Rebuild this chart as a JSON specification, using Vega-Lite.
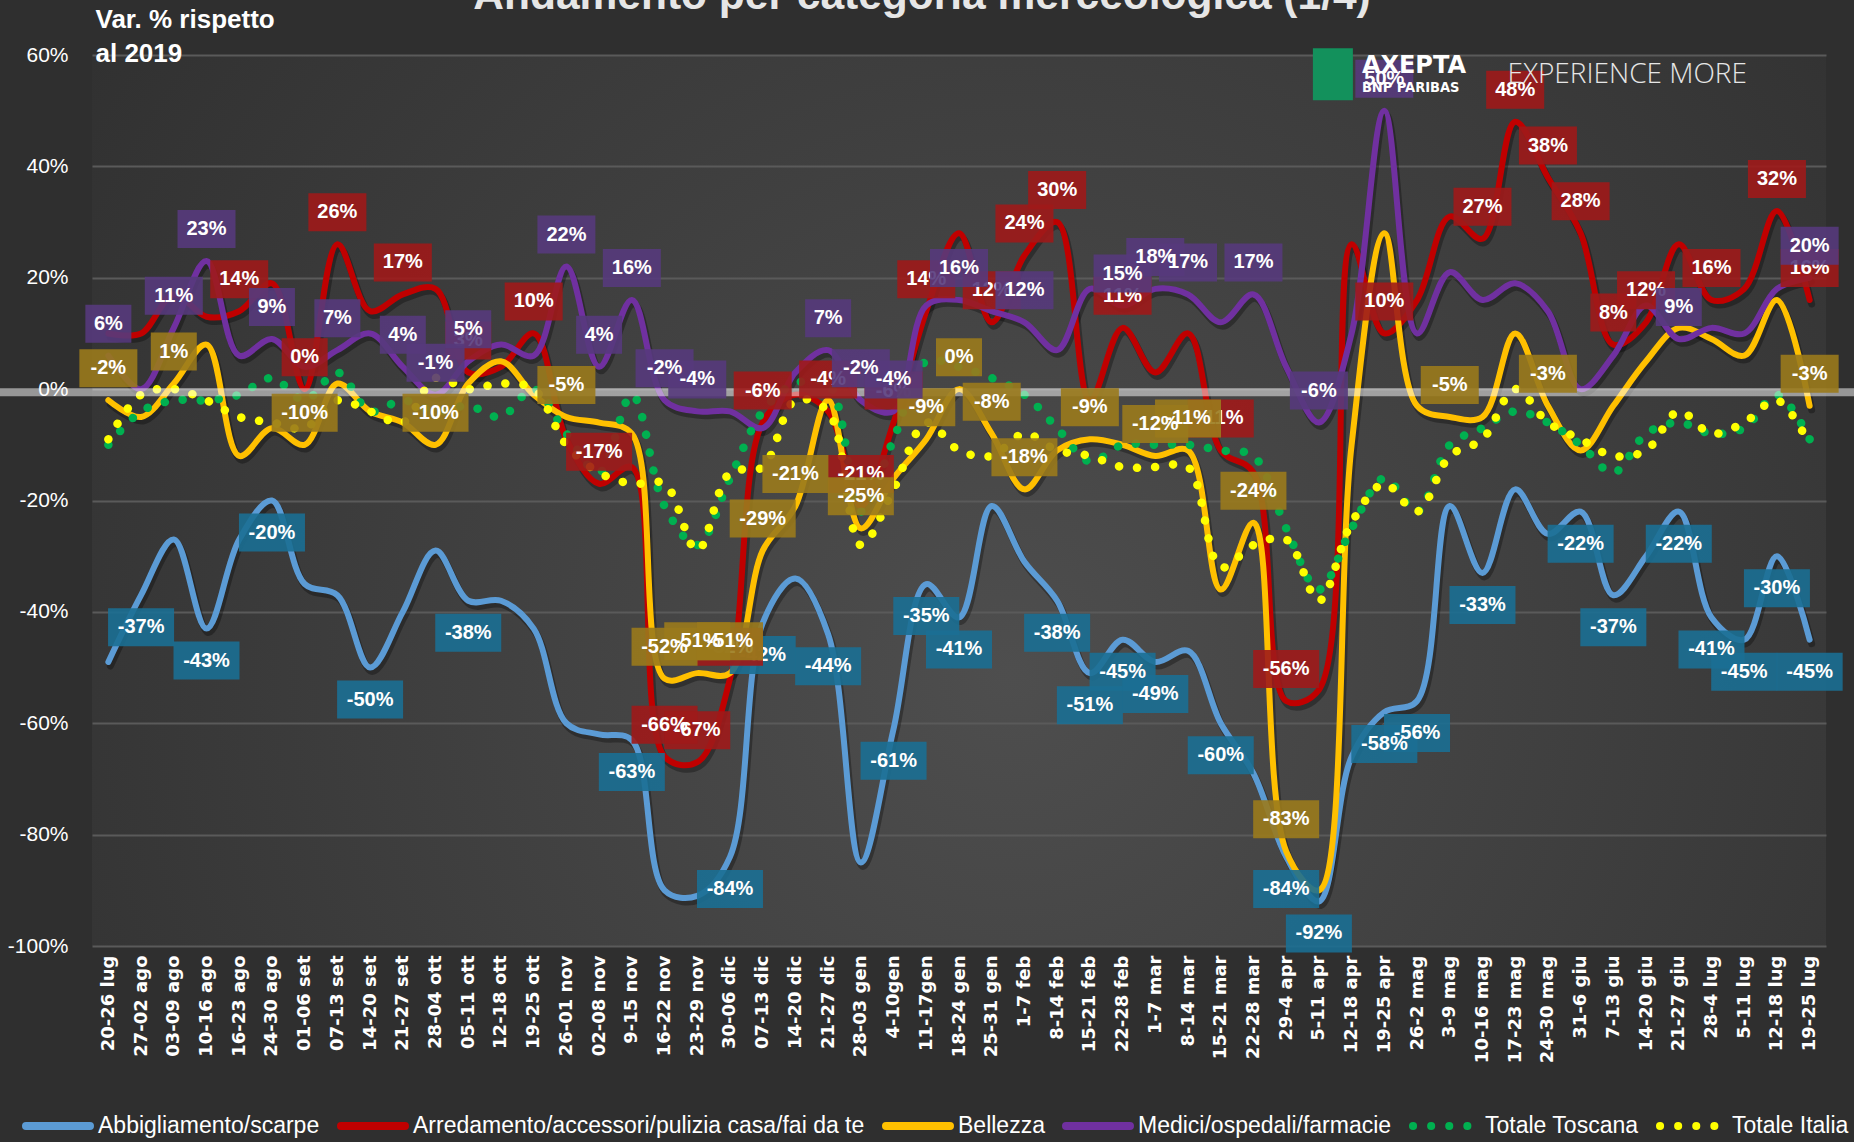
{
  "$schema": "https://vega.github.io/schema/vega-lite/v6.json",
  "width": 1734,
  "height": 891,
  "autosize": {"type": "none"},
  "padding": {"left": 92, "top": 55, "right": 28, "bottom": 196},
  "background": "#2f2f2f",
  "title": {
    "text": "Andamento per categoria merceologica (1/4)",
    "font": "Liberation Sans",
    "fontSize": 42.5,
    "fontWeight": "bold",
    "color": "#e6e6e6",
    "anchor": "middle",
    "frame": "group",
    "baseline": "alphabetic",
    "offset": -45,
    "dx": -37
  },
  "config": {
    "view": {"stroke": null, "fill": {"gradient": "radial", "x1": 0.53, "y1": 0.6, "x2": 0.53, "y2": 0.6, "r1": 0, "r2": 0.75, "stops": [{"offset": 0, "color": "#4e4e4e"}, {"offset": 1, "color": "#2c2c2c"}]}},
    "locale": {"number": {"decimal": ".", "thousands": ",", "grouping": [3], "currency": ["", ""], "minus": "-"}},
    "axis": {"domain": false, "ticks": false}
  },
  "datasets": {
    "lines": [
      {"w":"20-26 lug","Abbigliamento/scarpe":-0.49,"Arredamento/accessori/pulizia casa/fai da te":0.10,"Bellezza":-0.02,"Medici/ospedali/farmacie":0.06,"Totale Toscana":-0.10,"Totale Italia":-0.09},
      {"w":"27-02 ago","Abbigliamento/scarpe":-0.37,"Arredamento/accessori/pulizia casa/fai da te":0.10,"Bellezza":-0.05,"Medici/ospedali/farmacie":0.00,"Totale Toscana":-0.04,"Totale Italia":-0.01},
      {"w":"03-09 ago","Abbigliamento/scarpe":-0.27,"Arredamento/accessori/pulizia casa/fai da te":0.17,"Bellezza":0.01,"Medici/ospedali/farmacie":0.11,"Totale Toscana":-0.02,"Totale Italia":0.00},
      {"w":"10-16 ago","Abbigliamento/scarpe":-0.43,"Arredamento/accessori/pulizia casa/fai da te":0.13,"Bellezza":0.08,"Medici/ospedali/farmacie":0.23,"Totale Toscana":-0.02,"Totale Italia":-0.02},
      {"w":"16-23 ago","Abbigliamento/scarpe":-0.27,"Arredamento/accessori/pulizia casa/fai da te":0.14,"Bellezza":-0.12,"Medici/ospedali/farmacie":0.06,"Totale Toscana":-0.01,"Totale Italia":-0.05},
      {"w":"24-30 ago","Abbigliamento/scarpe":-0.20,"Arredamento/accessori/pulizia casa/fai da te":0.19,"Bellezza":-0.07,"Medici/ospedali/farmacie":0.09,"Totale Toscana":0.02,"Totale Italia":-0.06},
      {"w":"01-06 set","Abbigliamento/scarpe":-0.35,"Arredamento/accessori/pulizia casa/fai da te":0.00,"Bellezza":-0.10,"Medici/ospedali/farmacie":0.04,"Totale Toscana":-0.02,"Totale Italia":-0.07},
      {"w":"07-13 set","Abbigliamento/scarpe":-0.37,"Arredamento/accessori/pulizia casa/fai da te":0.26,"Bellezza":0.01,"Medici/ospedali/farmacie":0.07,"Totale Toscana":0.03,"Totale Italia":-0.02},
      {"w":"14-20 set","Abbigliamento/scarpe":-0.50,"Arredamento/accessori/pulizia casa/fai da te":0.14,"Bellezza":-0.04,"Medici/ospedali/farmacie":0.10,"Totale Toscana":-0.04,"Totale Italia":-0.04},
      {"w":"21-27 set","Abbigliamento/scarpe":-0.40,"Arredamento/accessori/pulizia casa/fai da te":0.17,"Bellezza":-0.06,"Medici/ospedali/farmacie":0.04,"Totale Toscana":-0.02,"Totale Italia":-0.06},
      {"w":"28-04 ott","Abbigliamento/scarpe":-0.29,"Arredamento/accessori/pulizia casa/fai da te":0.18,"Bellezza":-0.10,"Medici/ospedali/farmacie":-0.01,"Totale Toscana":-0.04,"Totale Italia":0.02},
      {"w":"05-11 ott","Abbigliamento/scarpe":-0.38,"Arredamento/accessori/pulizia casa/fai da te":0.03,"Bellezza":0.01,"Medici/ospedali/farmacie":0.05,"Totale Toscana":-0.03,"Totale Italia":0.00},
      {"w":"12-18 ott","Abbigliamento/scarpe":-0.38,"Arredamento/accessori/pulizia casa/fai da te":0.04,"Bellezza":0.05,"Medici/ospedali/farmacie":0.08,"Totale Toscana":-0.05,"Totale Italia":0.01},
      {"w":"19-25 ott","Abbigliamento/scarpe":-0.43,"Arredamento/accessori/pulizia casa/fai da te":0.10,"Bellezza":-0.01,"Medici/ospedali/farmacie":0.06,"Totale Toscana":0.00,"Totale Italia":0.00},
      {"w":"26-01 nov","Abbigliamento/scarpe":-0.60,"Arredamento/accessori/pulizia casa/fai da te":-0.09,"Bellezza":-0.05,"Medici/ospedali/farmacie":0.22,"Totale Toscana":-0.08,"Totale Italia":-0.10},
      {"w":"02-08 nov","Abbigliamento/scarpe":-0.62,"Arredamento/accessori/pulizia casa/fai da te":-0.17,"Bellezza":-0.06,"Medici/ospedali/farmacie":0.04,"Totale Toscana":-0.15,"Totale Italia":-0.15},
      {"w":"9-15 nov","Abbigliamento/scarpe":-0.63,"Arredamento/accessori/pulizia casa/fai da te":-0.14,"Bellezza":-0.08,"Medici/ospedali/farmacie":0.16,"Totale Toscana":-0.01,"Totale Italia":-0.17},
      {"w":"16-22 nov","Abbigliamento/scarpe":-0.90,"Arredamento/accessori/pulizia casa/fai da te":-0.66,"Bellezza":-0.52,"Medici/ospedali/farmacie":-0.02,"Totale Toscana":-0.21,"Totale Italia":-0.17},
      {"w":"23-29 nov","Abbigliamento/scarpe":-0.91,"Arredamento/accessori/pulizia casa/fai da te":-0.67,"Bellezza":-0.51,"Medici/ospedali/farmacie":-0.04,"Totale Toscana":-0.28,"Totale Italia":-0.29},
      {"w":"30-06 dic","Abbigliamento/scarpe":-0.84,"Arredamento/accessori/pulizia casa/fai da te":-0.52,"Bellezza":-0.51,"Medici/ospedali/farmacie":-0.04,"Totale Toscana":-0.16,"Totale Italia":-0.15},
      {"w":"07-13 dic","Abbigliamento/scarpe":-0.42,"Arredamento/accessori/pulizia casa/fai da te":-0.06,"Bellezza":-0.29,"Medici/ospedali/farmacie":-0.07,"Totale Toscana":-0.04,"Totale Italia":-0.14},
      {"w":"14-20 dic","Abbigliamento/scarpe":-0.34,"Arredamento/accessori/pulizia casa/fai da te":-0.01,"Bellezza":-0.21,"Medici/ospedali/farmacie":0.03,"Totale Toscana":0.01,"Totale Italia":-0.02},
      {"w":"21-27 dic","Abbigliamento/scarpe":-0.44,"Arredamento/accessori/pulizia casa/fai da te":-0.04,"Bellezza":-0.02,"Medici/ospedali/farmacie":0.07,"Totale Toscana":0.01,"Totale Italia":-0.04},
      {"w":"28-03 gen","Abbigliamento/scarpe":-0.85,"Arredamento/accessori/pulizia casa/fai da te":-0.21,"Bellezza":-0.25,"Medici/ospedali/farmacie":-0.02,"Totale Toscana":-0.22,"Totale Italia":-0.28},
      {"w":"4-10gen","Abbigliamento/scarpe":-0.61,"Arredamento/accessori/pulizia casa/fai da te":-0.06,"Bellezza":-0.16,"Medici/ospedali/farmacie":-0.04,"Totale Toscana":-0.09,"Totale Italia":-0.18},
      {"w":"11-17gen","Abbigliamento/scarpe":-0.35,"Arredamento/accessori/pulizia casa/fai da te":0.14,"Bellezza":-0.09,"Medici/ospedali/farmacie":0.15,"Totale Toscana":0.05,"Totale Italia":-0.06},
      {"w":"18-24 gen","Abbigliamento/scarpe":-0.41,"Arredamento/accessori/pulizia casa/fai da te":0.28,"Bellezza":0.00,"Medici/ospedali/farmacie":0.16,"Totale Toscana":0.04,"Totale Italia":-0.11},
      {"w":"25-31 gen","Abbigliamento/scarpe":-0.21,"Arredamento/accessori/pulizia casa/fai da te":0.12,"Bellezza":-0.08,"Medici/ospedali/farmacie":0.14,"Totale Toscana":0.02,"Totale Italia":-0.12},
      {"w":"1-7 feb","Abbigliamento/scarpe":-0.31,"Arredamento/accessori/pulizia casa/fai da te":0.24,"Bellezza":-0.18,"Medici/ospedali/farmacie":0.12,"Totale Toscana":-0.01,"Totale Italia":-0.08},
      {"w":"8-14 feb","Abbigliamento/scarpe":-0.38,"Arredamento/accessori/pulizia casa/fai da te":0.30,"Bellezza":-0.11,"Medici/ospedali/farmacie":0.07,"Totale Toscana":-0.07,"Totale Italia":-0.11},
      {"w":"15-21 feb","Abbigliamento/scarpe":-0.51,"Arredamento/accessori/pulizia casa/fai da te":-0.02,"Bellezza":-0.09,"Medici/ospedali/farmacie":0.18,"Totale Toscana":-0.13,"Totale Italia":-0.12},
      {"w":"22-28 feb","Abbigliamento/scarpe":-0.45,"Arredamento/accessori/pulizia casa/fai da te":0.11,"Bellezza":-0.10,"Medici/ospedali/farmacie":0.15,"Totale Toscana":-0.10,"Totale Italia":-0.14},
      {"w":"1-7 mar","Abbigliamento/scarpe":-0.49,"Arredamento/accessori/pulizia casa/fai da te":0.03,"Bellezza":-0.12,"Medici/ospedali/farmacie":0.18,"Totale Toscana":-0.10,"Totale Italia":-0.14},
      {"w":"8-14 mar","Abbigliamento/scarpe":-0.47,"Arredamento/accessori/pulizia casa/fai da te":0.10,"Bellezza":-0.11,"Medici/ospedali/farmacie":0.17,"Totale Toscana":-0.10,"Totale Italia":-0.14},
      {"w":"15-21 mar","Abbigliamento/scarpe":-0.60,"Arredamento/accessori/pulizia casa/fai da te":-0.11,"Bellezza":-0.36,"Medici/ospedali/farmacie":0.12,"Totale Toscana":-0.11,"Totale Italia":-0.32},
      {"w":"22-28 mar","Abbigliamento/scarpe":-0.69,"Arredamento/accessori/pulizia casa/fai da te":-0.15,"Bellezza":-0.24,"Medici/ospedali/farmacie":0.17,"Totale Toscana":-0.12,"Totale Italia":-0.28},
      {"w":"29-4 apr","Abbigliamento/scarpe":-0.84,"Arredamento/accessori/pulizia casa/fai da te":-0.56,"Bellezza":-0.83,"Medici/ospedali/farmacie":0.04,"Totale Toscana":-0.25,"Totale Italia":-0.27},
      {"w":"5-11 apr","Abbigliamento/scarpe":-0.92,"Arredamento/accessori/pulizia casa/fai da te":-0.54,"Bellezza":-0.90,"Medici/ospedali/farmacie":-0.06,"Totale Toscana":-0.36,"Totale Italia":-0.38},
      {"w":"12-18 apr","Abbigliamento/scarpe":-0.66,"Arredamento/accessori/pulizia casa/fai da te":0.26,"Bellezza":-0.10,"Medici/ospedali/farmacie":0.10,"Totale Toscana":-0.25,"Totale Italia":-0.24},
      {"w":"19-25 apr","Abbigliamento/scarpe":-0.58,"Arredamento/accessori/pulizia casa/fai da te":0.10,"Bellezza":0.28,"Medici/ospedali/farmacie":0.50,"Totale Toscana":-0.16,"Totale Italia":-0.17},
      {"w":"26-2 mag","Abbigliamento/scarpe":-0.56,"Arredamento/accessori/pulizia casa/fai da te":0.16,"Bellezza":-0.03,"Medici/ospedali/farmacie":0.10,"Totale Toscana":-0.22,"Totale Italia":-0.22},
      {"w":"3-9 mag","Abbigliamento/scarpe":-0.21,"Arredamento/accessori/pulizia casa/fai da te":0.31,"Bellezza":-0.05,"Medici/ospedali/farmacie":0.21,"Totale Toscana":-0.10,"Totale Italia":-0.12},
      {"w":"10-16 mag","Abbigliamento/scarpe":-0.33,"Arredamento/accessori/pulizia casa/fai da te":0.27,"Bellezza":-0.05,"Medici/ospedali/farmacie":0.16,"Totale Toscana":-0.07,"Totale Italia":-0.09},
      {"w":"17-23 mag","Abbigliamento/scarpe":-0.18,"Arredamento/accessori/pulizia casa/fai da te":0.48,"Bellezza":0.10,"Medici/ospedali/farmacie":0.19,"Totale Toscana":-0.04,"Totale Italia":0.00},
      {"w":"24-30 mag","Abbigliamento/scarpe":-0.26,"Arredamento/accessori/pulizia casa/fai da te":0.38,"Bellezza":-0.03,"Medici/ospedali/farmacie":0.14,"Totale Toscana":-0.06,"Totale Italia":-0.06},
      {"w":"31-6 giu","Abbigliamento/scarpe":-0.22,"Arredamento/accessori/pulizia casa/fai da te":0.28,"Bellezza":-0.11,"Medici/ospedali/farmacie":0.00,"Totale Toscana":-0.10,"Totale Italia":-0.09},
      {"w":"7-13 giu","Abbigliamento/scarpe":-0.37,"Arredamento/accessori/pulizia casa/fai da te":0.08,"Bellezza":-0.03,"Medici/ospedali/farmacie":0.06,"Totale Toscana":-0.15,"Totale Italia":-0.12},
      {"w":"14-20 giu","Abbigliamento/scarpe":-0.30,"Arredamento/accessori/pulizia casa/fai da te":0.12,"Bellezza":0.05,"Medici/ospedali/farmacie":0.15,"Totale Toscana":-0.08,"Totale Italia":-0.11},
      {"w":"21-27 giu","Abbigliamento/scarpe":-0.22,"Arredamento/accessori/pulizia casa/fai da te":0.26,"Bellezza":0.11,"Medici/ospedali/farmacie":0.09,"Totale Toscana":-0.06,"Totale Italia":-0.04},
      {"w":"28-4 lug","Abbigliamento/scarpe":-0.41,"Arredamento/accessori/pulizia casa/fai da te":0.16,"Bellezza":0.09,"Medici/ospedali/farmacie":0.11,"Totale Toscana":-0.08,"Totale Italia":-0.08},
      {"w":"5-11 lug","Abbigliamento/scarpe":-0.45,"Arredamento/accessori/pulizia casa/fai da te":0.18,"Bellezza":0.06,"Medici/ospedali/farmacie":0.10,"Totale Toscana":-0.07,"Totale Italia":-0.06},
      {"w":"12-18 lug","Abbigliamento/scarpe":-0.30,"Arredamento/accessori/pulizia casa/fai da te":0.32,"Bellezza":0.16,"Medici/ospedali/farmacie":0.18,"Totale Toscana":-0.01,"Totale Italia":-0.02},
      {"w":"19-25 lug","Abbigliamento/scarpe":-0.45,"Arredamento/accessori/pulizia casa/fai da te":0.16,"Bellezza":-0.03,"Medici/ospedali/farmacie":0.20,"Totale Toscana":-0.09,"Totale Italia":-0.10}
    ],
    "labels": [
      {"w":"27-02 ago","s":"Abbigliamento/scarpe","v":-0.37},
      {"w":"10-16 ago","s":"Abbigliamento/scarpe","v":-0.43},
      {"w":"24-30 ago","s":"Abbigliamento/scarpe","v":-0.20},
      {"w":"14-20 set","s":"Abbigliamento/scarpe","v":-0.50},
      {"w":"05-11 ott","s":"Abbigliamento/scarpe","v":-0.38},
      {"w":"9-15 nov","s":"Abbigliamento/scarpe","v":-0.63},
      {"w":"30-06 dic","s":"Abbigliamento/scarpe","v":-0.84},
      {"w":"07-13 dic","s":"Abbigliamento/scarpe","v":-0.42},
      {"w":"21-27 dic","s":"Abbigliamento/scarpe","v":-0.44},
      {"w":"4-10gen","s":"Abbigliamento/scarpe","v":-0.61},
      {"w":"11-17gen","s":"Abbigliamento/scarpe","v":-0.35},
      {"w":"18-24 gen","s":"Abbigliamento/scarpe","v":-0.41},
      {"w":"8-14 feb","s":"Abbigliamento/scarpe","v":-0.38},
      {"w":"15-21 feb","s":"Abbigliamento/scarpe","v":-0.51},
      {"w":"22-28 feb","s":"Abbigliamento/scarpe","v":-0.45},
      {"w":"1-7 mar","s":"Abbigliamento/scarpe","v":-0.49},
      {"w":"15-21 mar","s":"Abbigliamento/scarpe","v":-0.60},
      {"w":"29-4 apr","s":"Abbigliamento/scarpe","v":-0.84},
      {"w":"5-11 apr","s":"Abbigliamento/scarpe","v":-0.92},
      {"w":"19-25 apr","s":"Abbigliamento/scarpe","v":-0.58},
      {"w":"26-2 mag","s":"Abbigliamento/scarpe","v":-0.56},
      {"w":"10-16 mag","s":"Abbigliamento/scarpe","v":-0.33},
      {"w":"31-6 giu","s":"Abbigliamento/scarpe","v":-0.22},
      {"w":"7-13 giu","s":"Abbigliamento/scarpe","v":-0.37},
      {"w":"21-27 giu","s":"Abbigliamento/scarpe","v":-0.22},
      {"w":"28-4 lug","s":"Abbigliamento/scarpe","v":-0.41},
      {"w":"5-11 lug","s":"Abbigliamento/scarpe","v":-0.45},
      {"w":"12-18 lug","s":"Abbigliamento/scarpe","v":-0.30},
      {"w":"19-25 lug","s":"Abbigliamento/scarpe","v":-0.45},
      {"w":"16-23 ago","s":"Arredamento/accessori/pulizia casa/fai da te","v":0.14},
      {"w":"01-06 set","s":"Arredamento/accessori/pulizia casa/fai da te","v":0.00},
      {"w":"07-13 set","s":"Arredamento/accessori/pulizia casa/fai da te","v":0.26},
      {"w":"21-27 set","s":"Arredamento/accessori/pulizia casa/fai da te","v":0.17},
      {"w":"05-11 ott","s":"Arredamento/accessori/pulizia casa/fai da te","v":0.03},
      {"w":"19-25 ott","s":"Arredamento/accessori/pulizia casa/fai da te","v":0.10},
      {"w":"02-08 nov","s":"Arredamento/accessori/pulizia casa/fai da te","v":-0.17},
      {"w":"16-22 nov","s":"Arredamento/accessori/pulizia casa/fai da te","v":-0.66},
      {"w":"23-29 nov","s":"Arredamento/accessori/pulizia casa/fai da te","v":-0.67},
      {"w":"30-06 dic","s":"Arredamento/accessori/pulizia casa/fai da te","v":-0.52},
      {"w":"07-13 dic","s":"Arredamento/accessori/pulizia casa/fai da te","v":-0.06},
      {"w":"21-27 dic","s":"Arredamento/accessori/pulizia casa/fai da te","v":-0.04},
      {"w":"28-03 gen","s":"Arredamento/accessori/pulizia casa/fai da te","v":-0.21},
      {"w":"4-10gen","s":"Arredamento/accessori/pulizia casa/fai da te","v":-0.06},
      {"w":"11-17gen","s":"Arredamento/accessori/pulizia casa/fai da te","v":0.14},
      {"w":"25-31 gen","s":"Arredamento/accessori/pulizia casa/fai da te","v":0.12},
      {"w":"1-7 feb","s":"Arredamento/accessori/pulizia casa/fai da te","v":0.24},
      {"w":"8-14 feb","s":"Arredamento/accessori/pulizia casa/fai da te","v":0.30},
      {"w":"22-28 feb","s":"Arredamento/accessori/pulizia casa/fai da te","v":0.11},
      {"w":"15-21 mar","s":"Arredamento/accessori/pulizia casa/fai da te","v":-0.11},
      {"w":"29-4 apr","s":"Arredamento/accessori/pulizia casa/fai da te","v":-0.56},
      {"w":"19-25 apr","s":"Arredamento/accessori/pulizia casa/fai da te","v":0.10},
      {"w":"10-16 mag","s":"Arredamento/accessori/pulizia casa/fai da te","v":0.27},
      {"w":"17-23 mag","s":"Arredamento/accessori/pulizia casa/fai da te","v":0.48},
      {"w":"24-30 mag","s":"Arredamento/accessori/pulizia casa/fai da te","v":0.38},
      {"w":"31-6 giu","s":"Arredamento/accessori/pulizia casa/fai da te","v":0.28},
      {"w":"7-13 giu","s":"Arredamento/accessori/pulizia casa/fai da te","v":0.08},
      {"w":"14-20 giu","s":"Arredamento/accessori/pulizia casa/fai da te","v":0.12},
      {"w":"28-4 lug","s":"Arredamento/accessori/pulizia casa/fai da te","v":0.16},
      {"w":"12-18 lug","s":"Arredamento/accessori/pulizia casa/fai da te","v":0.32},
      {"w":"19-25 lug","s":"Arredamento/accessori/pulizia casa/fai da te","v":0.16},
      {"w":"20-26 lug","s":"Bellezza","v":-0.02},
      {"w":"03-09 ago","s":"Bellezza","v":0.01},
      {"w":"01-06 set","s":"Bellezza","v":-0.10},
      {"w":"28-04 ott","s":"Bellezza","v":-0.10},
      {"w":"26-01 nov","s":"Bellezza","v":-0.05},
      {"w":"16-22 nov","s":"Bellezza","v":-0.52},
      {"w":"23-29 nov","s":"Bellezza","v":-0.51},
      {"w":"30-06 dic","s":"Bellezza","v":-0.51},
      {"w":"07-13 dic","s":"Bellezza","v":-0.29},
      {"w":"14-20 dic","s":"Bellezza","v":-0.21},
      {"w":"28-03 gen","s":"Bellezza","v":-0.25},
      {"w":"11-17gen","s":"Bellezza","v":-0.09},
      {"w":"18-24 gen","s":"Bellezza","v":0.00},
      {"w":"25-31 gen","s":"Bellezza","v":-0.08},
      {"w":"1-7 feb","s":"Bellezza","v":-0.18},
      {"w":"15-21 feb","s":"Bellezza","v":-0.09},
      {"w":"1-7 mar","s":"Bellezza","v":-0.12},
      {"w":"8-14 mar","s":"Bellezza","v":-0.11},
      {"w":"22-28 mar","s":"Bellezza","v":-0.24},
      {"w":"29-4 apr","s":"Bellezza","v":-0.83},
      {"w":"3-9 mag","s":"Bellezza","v":-0.05},
      {"w":"24-30 mag","s":"Bellezza","v":-0.03},
      {"w":"19-25 lug","s":"Bellezza","v":-0.03},
      {"w":"20-26 lug","s":"Medici/ospedali/farmacie","v":0.06},
      {"w":"03-09 ago","s":"Medici/ospedali/farmacie","v":0.11},
      {"w":"10-16 ago","s":"Medici/ospedali/farmacie","v":0.23},
      {"w":"24-30 ago","s":"Medici/ospedali/farmacie","v":0.09},
      {"w":"07-13 set","s":"Medici/ospedali/farmacie","v":0.07},
      {"w":"21-27 set","s":"Medici/ospedali/farmacie","v":0.04},
      {"w":"28-04 ott","s":"Medici/ospedali/farmacie","v":-0.01},
      {"w":"05-11 ott","s":"Medici/ospedali/farmacie","v":0.05},
      {"w":"26-01 nov","s":"Medici/ospedali/farmacie","v":0.22},
      {"w":"02-08 nov","s":"Medici/ospedali/farmacie","v":0.04},
      {"w":"9-15 nov","s":"Medici/ospedali/farmacie","v":0.16},
      {"w":"16-22 nov","s":"Medici/ospedali/farmacie","v":-0.02},
      {"w":"23-29 nov","s":"Medici/ospedali/farmacie","v":-0.04},
      {"w":"21-27 dic","s":"Medici/ospedali/farmacie","v":0.07},
      {"w":"28-03 gen","s":"Medici/ospedali/farmacie","v":-0.02},
      {"w":"4-10gen","s":"Medici/ospedali/farmacie","v":-0.04},
      {"w":"18-24 gen","s":"Medici/ospedali/farmacie","v":0.16},
      {"w":"1-7 feb","s":"Medici/ospedali/farmacie","v":0.12},
      {"w":"22-28 feb","s":"Medici/ospedali/farmacie","v":0.15},
      {"w":"1-7 mar","s":"Medici/ospedali/farmacie","v":0.18},
      {"w":"8-14 mar","s":"Medici/ospedali/farmacie","v":0.17},
      {"w":"22-28 mar","s":"Medici/ospedali/farmacie","v":0.17},
      {"w":"5-11 apr","s":"Medici/ospedali/farmacie","v":-0.06},
      {"w":"19-25 apr","s":"Medici/ospedali/farmacie","v":0.50},
      {"w":"21-27 giu","s":"Medici/ospedali/farmacie","v":0.09},
      {"w":"19-25 lug","s":"Medici/ospedali/farmacie","v":0.20}
    ]
  },
  "layer": [
    {
      "data": {"name": "lines"},
      "transform": [
        {"fold": ["Abbigliamento/scarpe", "Arredamento/accessori/pulizia casa/fai da te", "Bellezza", "Medici/ospedali/farmacie", "Totale Toscana", "Totale Italia"], "as": ["s", "v"]},
        {"filter": "datum.s !== 'Totale Toscana' && datum.s !== 'Totale Italia'"}
      ],
      "mark": {"type": "line", "interpolate": "catmull-rom", "stroke": "#000000", "strokeWidth": 7, "opacity": 0.3, "xOffset": 2, "yOffset": 4, "strokeCap": "round"},
      "encoding": {
        "x": {
          "field": "w", "type": "ordinal",
          "sort": ["20-26 lug","27-02 ago","03-09 ago","10-16 ago","16-23 ago","24-30 ago","01-06 set","07-13 set","14-20 set","21-27 set","28-04 ott","05-11 ott","12-18 ott","19-25 ott","26-01 nov","02-08 nov","9-15 nov","16-22 nov","23-29 nov","30-06 dic","07-13 dic","14-20 dic","21-27 dic","28-03 gen","4-10gen","11-17gen","18-24 gen","25-31 gen","1-7 feb","8-14 feb","15-21 feb","22-28 feb","1-7 mar","8-14 mar","15-21 mar","22-28 mar","29-4 apr","5-11 apr","12-18 apr","19-25 apr","26-2 mag","3-9 mag","10-16 mag","17-23 mag","24-30 mag","31-6 giu","7-13 giu","14-20 giu","21-27 giu","28-4 lug","5-11 lug","12-18 lug","19-25 lug"],
          "scale": {"type": "point", "padding": 0.5, "domain": ["20-26 lug","27-02 ago","03-09 ago","10-16 ago","16-23 ago","24-30 ago","01-06 set","07-13 set","14-20 set","21-27 set","28-04 ott","05-11 ott","12-18 ott","19-25 ott","26-01 nov","02-08 nov","9-15 nov","16-22 nov","23-29 nov","30-06 dic","07-13 dic","14-20 dic","21-27 dic","28-03 gen","4-10gen","11-17gen","18-24 gen","25-31 gen","1-7 feb","8-14 feb","15-21 feb","22-28 feb","1-7 mar","8-14 mar","15-21 mar","22-28 mar","29-4 apr","5-11 apr","12-18 apr","19-25 apr","26-2 mag","3-9 mag","10-16 mag","17-23 mag","24-30 mag","31-6 giu","7-13 giu","14-20 giu","21-27 giu","28-4 lug","5-11 lug","12-18 lug","19-25 lug"]},
          "axis": {"title": null, "labelAngle": -90, "labelFont": "DejaVu Sans", "labelFontWeight": "bold", "labelFontSize": 18, "labelColor": "#ffffff", "labelPadding": 9, "labelOverlap": false, "grid": false}
        },
        "y": {
          "field": "v", "type": "quantitative",
          "scale": {"domain": [-1, 0.6], "nice": false, "zero": false},
          "axis": {
            "values": [-1, -0.8, -0.6, -0.4, -0.2, 0, 0.2, 0.4, 0.6],
            "format": ".0%",
            "grid": true, "gridColor": "#5a5a5a", "gridWidth": 2,
            "labelFont": "Liberation Sans", "labelFontSize": 21, "labelColor": "#ffffff", "labelPadding": 24, "labelFlush": false, "labelOverlap": false,
            "title": ["Var. % rispetto", "al 2019"],
            "titleX": 3, "titleY": -28, "titleAngle": 0, "titleAlign": "left", "titleBaseline": "alphabetic",
            "titleFont": "Liberation Sans", "titleFontSize": 26, "titleFontWeight": "bold", "titleColor": "#ffffff", "titleLineHeight": 34
          }
        },
        "detail": {"field": "s", "type": "nominal"}
      }
    },
    {
      "data": {"name": "lines"},
      "transform": [
        {"fold": ["Abbigliamento/scarpe", "Arredamento/accessori/pulizia casa/fai da te", "Bellezza", "Medici/ospedali/farmacie", "Totale Toscana", "Totale Italia"], "as": ["s", "v"]},
        {"filter": "datum.s !== 'Totale Toscana' && datum.s !== 'Totale Italia'"}
      ],
      "mark": {"type": "line", "interpolate": "catmull-rom", "strokeWidth": 6, "strokeCap": "round", "strokeJoin": "round"},
      "encoding": {
        "x": {"field": "w", "type": "ordinal", "sort": ["20-26 lug","27-02 ago","03-09 ago","10-16 ago","16-23 ago","24-30 ago","01-06 set","07-13 set","14-20 set","21-27 set","28-04 ott","05-11 ott","12-18 ott","19-25 ott","26-01 nov","02-08 nov","9-15 nov","16-22 nov","23-29 nov","30-06 dic","07-13 dic","14-20 dic","21-27 dic","28-03 gen","4-10gen","11-17gen","18-24 gen","25-31 gen","1-7 feb","8-14 feb","15-21 feb","22-28 feb","1-7 mar","8-14 mar","15-21 mar","22-28 mar","29-4 apr","5-11 apr","12-18 apr","19-25 apr","26-2 mag","3-9 mag","10-16 mag","17-23 mag","24-30 mag","31-6 giu","7-13 giu","14-20 giu","21-27 giu","28-4 lug","5-11 lug","12-18 lug","19-25 lug"]},
        "y": {"field": "v", "type": "quantitative"},
        "color": {
          "field": "s", "type": "nominal",
          "scale": {"domain": ["Abbigliamento/scarpe", "Arredamento/accessori/pulizia casa/fai da te", "Bellezza", "Medici/ospedali/farmacie", "Totale Toscana", "Totale Italia"], "range": ["#5b9bd5", "#c00000", "#ffc000", "#7030a0", "#00b050", "#ffff00"]},
          "legend": {"orient": "none", "legendX": -70, "legendY": 1035, "direction": "horizontal", "title": null, "symbolType": "stroke", "symbolSize": 4096, "symbolStrokeWidth": 8, "labelFont": "Liberation Sans", "labelFontSize": 23, "labelColor": "#ffffff", "labelOffset": 4, "labelLimit": 600, "columnPadding": 5, "padding": 0, "encode": {"symbols": {"update": {"strokeCap": {"value": "round"}}}}}
        }
      }
    },
    {
      "data": {"name": "lines"},
      "transform": [
        {"fold": ["Abbigliamento/scarpe", "Arredamento/accessori/pulizia casa/fai da te", "Bellezza", "Medici/ospedali/farmacie", "Totale Toscana", "Totale Italia"], "as": ["s", "v"]},
        {"filter": "datum.s === 'Totale Toscana' || datum.s === 'Totale Italia'"}
      ],
      "mark": {"type": "line", "interpolate": "catmull-rom", "strokeWidth": 8.5, "strokeCap": "round"},
      "encoding": {
        "x": {"field": "w", "type": "ordinal", "sort": ["20-26 lug","27-02 ago","03-09 ago","10-16 ago","16-23 ago","24-30 ago","01-06 set","07-13 set","14-20 set","21-27 set","28-04 ott","05-11 ott","12-18 ott","19-25 ott","26-01 nov","02-08 nov","9-15 nov","16-22 nov","23-29 nov","30-06 dic","07-13 dic","14-20 dic","21-27 dic","28-03 gen","4-10gen","11-17gen","18-24 gen","25-31 gen","1-7 feb","8-14 feb","15-21 feb","22-28 feb","1-7 mar","8-14 mar","15-21 mar","22-28 mar","29-4 apr","5-11 apr","12-18 apr","19-25 apr","26-2 mag","3-9 mag","10-16 mag","17-23 mag","24-30 mag","31-6 giu","7-13 giu","14-20 giu","21-27 giu","28-4 lug","5-11 lug","12-18 lug","19-25 lug"]},
        "y": {"field": "v", "type": "quantitative"},
        "color": {
          "field": "s", "type": "nominal",
          "scale": {"domain": ["Abbigliamento/scarpe", "Arredamento/accessori/pulizia casa/fai da te", "Bellezza", "Medici/ospedali/farmacie", "Totale Toscana", "Totale Italia"], "range": ["#5b9bd5", "#c00000", "#ffc000", "#7030a0", "#00b050", "#ffff00"]},
          "legend": {"orient": "none", "legendX": -70, "legendY": 1035, "direction": "horizontal", "title": null, "symbolType": "stroke", "symbolSize": 4096, "symbolStrokeWidth": 8, "labelFont": "Liberation Sans", "labelFontSize": 23, "labelColor": "#ffffff", "labelOffset": 4, "labelLimit": 600, "columnPadding": 5, "padding": 0, "encode": {"symbols": {"update": {"strokeCap": {"value": "round"}}}}}
        },
        "strokeDash": {
          "field": "s", "type": "nominal",
          "scale": {"domain": ["Abbigliamento/scarpe", "Arredamento/accessori/pulizia casa/fai da te", "Bellezza", "Medici/ospedali/farmacie", "Totale Toscana", "Totale Italia"], "range": [[1, 0], [1, 0], [1, 0], [1, 0], [0.1, 18], [0.1, 18]]},
          "legend": {"orient": "none", "legendX": -70, "legendY": 1035, "direction": "horizontal", "title": null, "symbolType": "stroke", "symbolSize": 4096, "symbolStrokeWidth": 8, "labelFont": "Liberation Sans", "labelFontSize": 23, "labelColor": "#ffffff", "labelOffset": 4, "labelLimit": 600, "columnPadding": 5, "padding": 0, "encode": {"symbols": {"update": {"strokeCap": {"value": "round"}}}}}
        }
      }
    },
    {
      "data": {"values": [{}]},
      "mark": {"type": "rule", "color": "#ffffff", "opacity": 0.5, "strokeWidth": 8, "yOffset": 3, "xOffset": -109, "x2Offset": 45},
      "encoding": {"x": {"datum": "20-26 lug", "type": "ordinal"}, "x2": {"datum": "19-25 lug"}, "y": {"datum": 0, "type": "quantitative"}}
    },
    {
      "data": {"name": "labels"},
      "transform": [{"filter": "datum.s === 'Abbigliamento/scarpe'"}],
      "mark": {"type": "point", "filled": true, "fill": "#1b6f93", "opacity": 0.9, "size": 4, "strokeWidth": 0, "yOffset": 32},
      "encoding": {
        "x": {"field": "w", "type": "ordinal"},
        "y": {"field": "v", "type": "quantitative"},
        "shape": {"condition": [{"test": "length(format(datum.v,'.0%'))<=2", "value": "M-23,-19H23V19H-23Z"}, {"test": "length(format(datum.v,'.0%'))==3", "value": "M-29,-19H29V19H-29Z"}], "value": "M-33,-19H33V19H-33Z"}
      }
    },
    {
      "data": {"name": "labels"},
      "transform": [{"filter": "datum.s === 'Abbigliamento/scarpe'"}],
      "mark": {"type": "text", "font": "Liberation Sans", "fontSize": 20, "fontWeight": "bold", "fill": "#ffffff", "baseline": "middle", "align": "center", "dy": 32},
      "encoding": {
        "x": {"field": "w", "type": "ordinal"},
        "y": {"field": "v", "type": "quantitative"},
        "text": {"field": "v", "type": "quantitative", "format": ".0%"}
      }
    },
    {
      "data": {"name": "labels"},
      "transform": [{"filter": "datum.s === 'Arredamento/accessori/pulizia casa/fai da te'"}],
      "mark": {"type": "point", "filled": true, "fill": "#9e1a1a", "opacity": 0.9, "size": 4, "strokeWidth": 0, "yOffset": -32},
      "encoding": {
        "x": {"field": "w", "type": "ordinal"},
        "y": {"field": "v", "type": "quantitative"},
        "shape": {"condition": [{"test": "length(format(datum.v,'.0%'))<=2", "value": "M-23,-19H23V19H-23Z"}, {"test": "length(format(datum.v,'.0%'))==3", "value": "M-29,-19H29V19H-29Z"}], "value": "M-33,-19H33V19H-33Z"}
      }
    },
    {
      "data": {"name": "labels"},
      "transform": [{"filter": "datum.s === 'Arredamento/accessori/pulizia casa/fai da te'"}],
      "mark": {"type": "text", "font": "Liberation Sans", "fontSize": 20, "fontWeight": "bold", "fill": "#ffffff", "baseline": "middle", "align": "center", "dy": -32},
      "encoding": {
        "x": {"field": "w", "type": "ordinal"},
        "y": {"field": "v", "type": "quantitative"},
        "text": {"field": "v", "type": "quantitative", "format": ".0%"}
      }
    },
    {
      "data": {"name": "labels"},
      "transform": [{"filter": "datum.s === 'Bellezza'"}],
      "mark": {"type": "point", "filled": true, "fill": "#9a7a1c", "opacity": 0.9, "size": 4, "strokeWidth": 0, "yOffset": -32},
      "encoding": {
        "x": {"field": "w", "type": "ordinal"},
        "y": {"field": "v", "type": "quantitative"},
        "shape": {"condition": [{"test": "length(format(datum.v,'.0%'))<=2", "value": "M-23,-19H23V19H-23Z"}, {"test": "length(format(datum.v,'.0%'))==3", "value": "M-29,-19H29V19H-29Z"}], "value": "M-33,-19H33V19H-33Z"}
      }
    },
    {
      "data": {"name": "labels"},
      "transform": [{"filter": "datum.s === 'Bellezza'"}],
      "mark": {"type": "text", "font": "Liberation Sans", "fontSize": 20, "fontWeight": "bold", "fill": "#ffffff", "baseline": "middle", "align": "center", "dy": -32},
      "encoding": {
        "x": {"field": "w", "type": "ordinal"},
        "y": {"field": "v", "type": "quantitative"},
        "text": {"field": "v", "type": "quantitative", "format": ".0%"}
      }
    },
    {
      "data": {"name": "labels"},
      "transform": [{"filter": "datum.s === 'Medici/ospedali/farmacie'"}],
      "mark": {"type": "point", "filled": true, "fill": "#573a7c", "opacity": 0.9, "size": 4, "strokeWidth": 0, "yOffset": -32},
      "encoding": {
        "x": {"field": "w", "type": "ordinal"},
        "y": {"field": "v", "type": "quantitative"},
        "shape": {"condition": [{"test": "length(format(datum.v,'.0%'))<=2", "value": "M-23,-19H23V19H-23Z"}, {"test": "length(format(datum.v,'.0%'))==3", "value": "M-29,-19H29V19H-29Z"}], "value": "M-33,-19H33V19H-33Z"}
      }
    },
    {
      "data": {"name": "labels"},
      "transform": [{"filter": "datum.s === 'Medici/ospedali/farmacie'"}],
      "mark": {"type": "text", "font": "Liberation Sans", "fontSize": 20, "fontWeight": "bold", "fill": "#ffffff", "baseline": "middle", "align": "center", "dy": -32},
      "encoding": {
        "x": {"field": "w", "type": "ordinal"},
        "y": {"field": "v", "type": "quantitative"},
        "text": {"field": "v", "type": "quantitative", "format": ".0%"}
      }
    },
    {
      "data": {"values": [{}]},
      "mark": {"type": "point", "shape": "M-20,-26H20V26H-20Z", "size": 4, "filled": true, "fill": "#13915c", "opacity": 1, "strokeWidth": 0, "xOffset": 14},
      "encoding": {"x": {"datum": "5-11 apr", "type": "ordinal"}, "y": {"datum": 0.5655, "type": "quantitative"}}
    },
    {
      "data": {"values": [{}]},
      "mark": {"type": "text", "text": "AXEPTA", "font": "DejaVu Sans", "fontSize": 24, "fontWeight": "bold", "fill": "#ffffff", "align": "left", "baseline": "middle", "dx": 43},
      "encoding": {"x": {"datum": "5-11 apr", "type": "ordinal"}, "y": {"datum": 0.58, "type": "quantitative"}}
    },
    {
      "data": {"values": [{}]},
      "mark": {"type": "text", "text": "BNP PARIBAS", "font": "DejaVu Sans Condensed", "fontSize": 14.5, "fontWeight": "bold", "fill": "#ffffff", "align": "left", "baseline": "middle", "dx": 43},
      "encoding": {"x": {"datum": "5-11 apr", "type": "ordinal"}, "y": {"datum": 0.54, "type": "quantitative"}}
    },
    {
      "data": {"values": [{}]},
      "mark": {"type": "text", "text": "EXPERIENCE MORE", "font": "Open Sans", "fontSize": 28, "fontWeight": 300, "fill": "#e6e6e6", "align": "left", "baseline": "middle", "dx": 25},
      "encoding": {"x": {"datum": "10-16 mag", "type": "ordinal"}, "y": {"datum": 0.5636, "type": "quantitative"}}
    }
  ]
}
